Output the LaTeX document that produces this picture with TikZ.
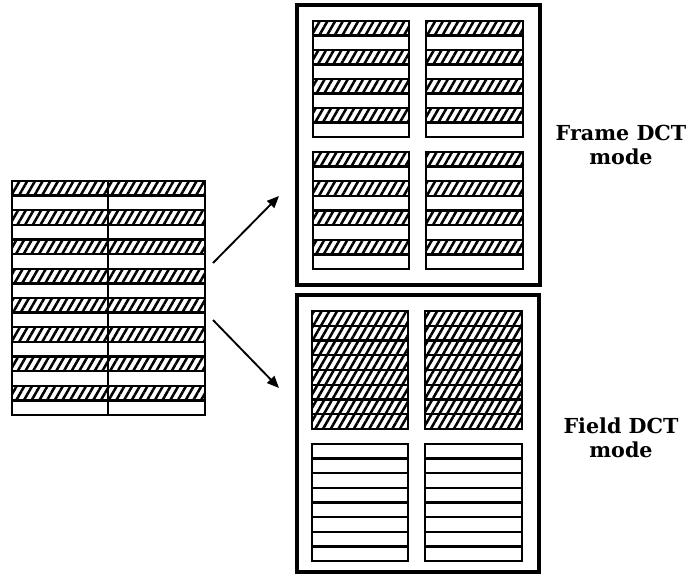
\documentclass[tikz,border=0pt]{standalone}
\usepackage{fontspec}
\setmainfont{DejaVu Serif}
\usetikzlibrary{patterns.meta,arrows.meta}
\newcommand\rowblock[6]{% x1 y1 x2 y2 rows mode(0 alternate,1 all hatched,2 none)
  \pgfmathsetmacro\rh{(#4-#2)/#5}
  \foreach \i in {1,...,#5}{
    \pgfmathtruncatemacro\ishatched{ (#6==1) || ((#6==0) && (mod(\i,2)==1)) }
    \ifnum\ishatched=1
      \fill[hatch] (#1,{#2+(\i-1)*\rh}) rectangle (#3,{#2+\i*\rh});
    \fi
  }
  \foreach \i in {1,...,#5}{
    \draw[cell] (#1,{#2+\i*\rh}) -- (#3,{#2+\i*\rh});
  }
  \draw[cell] (#1,#2) rectangle (#3,#4);
}
\begin{document}
\begin{tikzpicture}[x=0.75pt,y=-0.75pt,
  hatch/.style={pattern={Lines[angle=60,distance=5pt,line width=1.9pt]}},
  cell/.style={draw,line width=1.8pt},
  frame/.style={draw,line width=3pt},
  arr/.style={line width=1.4pt,-{Triangle[length=9pt,width=7.5pt]}},
  lbl/.style={font=\bfseries\fontsize{15.5}{18}\selectfont,align=center}]
\useasboundingbox (0,0) rectangle (689,575);
% source picture
\rowblock{12}{181}{205}{415}{16}{0}
\draw[cell] (108,181) -- (108,415);
% frame DCT
\draw[frame] (297,5) rectangle (540,285);
\rowblock{313}{21}{409}{137}{8}{0}
\rowblock{426}{21}{523}{137}{8}{0}
\rowblock{313}{152}{409}{269}{8}{0}
\rowblock{426}{152}{523}{269}{8}{0}
% field DCT
\draw[frame] (297,295) rectangle (539,572);
\rowblock{312}{311}{408}{429}{8}{1}
\rowblock{425}{311}{522}{429}{8}{1}
\rowblock{312}{444}{408}{561}{8}{2}
\rowblock{425}{444}{522}{561}{8}{2}
% arrows
\coordinate (a1s) at (213,263);
\coordinate (a1e) at (279,196);
\coordinate (a2s) at (213,320);
\coordinate (a2e) at (279,388);
\draw[arr] (a1s) -- (a1e);
\draw[arr] (a2s) -- (a2e);
% labels
\node[lbl] (lframe) at (621,145) {Frame DCT\\mode};
\node[lbl] (lfield) at (621,438) {Field DCT\\mode};
\end{tikzpicture}
\end{document}
